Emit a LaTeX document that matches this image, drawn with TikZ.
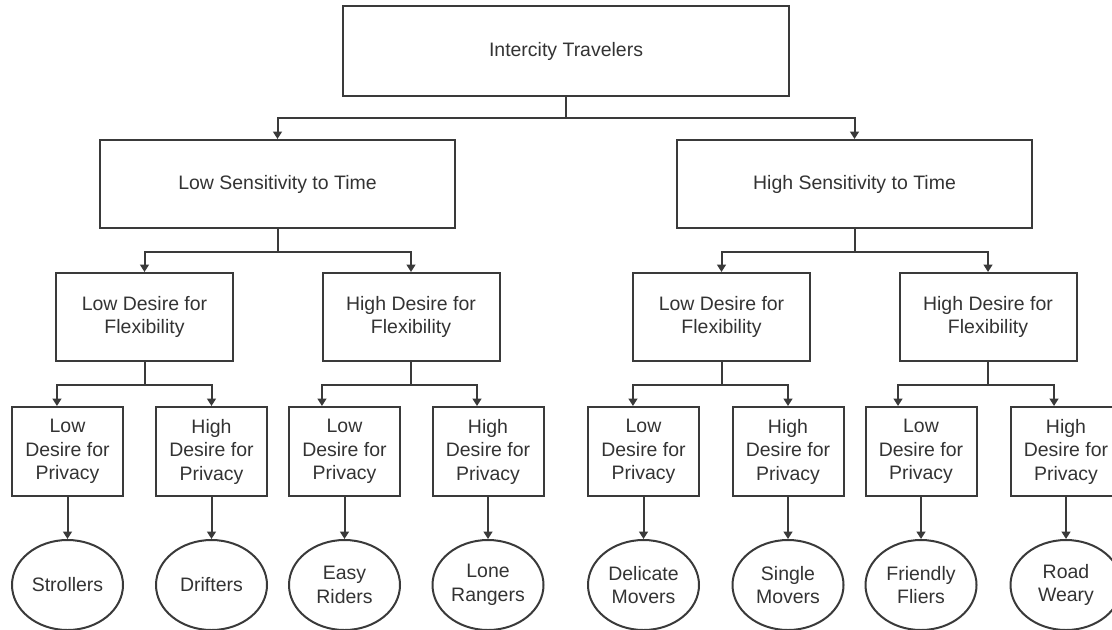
\documentclass[tikz,border=0pt]{standalone}
\usepackage{fontspec}
\setmainfont{Liberation Sans}
\usetikzlibrary{arrows.meta,shapes.geometric}
\definecolor{ln}{HTML}{3A3A3A}
\definecolor{tx}{HTML}{333333}
\begin{document}
\begin{tikzpicture}[x=0.75pt,y=-0.75pt,
  base/.style={draw=ln,line width=1.5pt,inner sep=0pt,align=center,text=tx,
    font=\fontsize{14.6}{17.6}\selectfont},
  topbox/.style={base,rectangle,minimum width=334.5pt,minimum height=67.5pt},
  lvtwo/.style={base,rectangle,minimum width=266.25pt,minimum height=66pt},
  lvthree/.style={base,rectangle,minimum width=132.75pt,minimum height=66pt},
  lvfour/.style={base,rectangle,minimum width=83.25pt,minimum height=66.75pt},
  leaf/.style={base,ellipse,minimum width=83.25pt,minimum height=67.5pt},
  arr/.style={draw=ln,line width=1.5pt,-{Triangle[width=6.5pt,length=5.5pt]}}
]
\useasboundingbox (0,0) rectangle (1112,629);
\clip (0,0) rectangle (1112,629);

% level 1
\node[topbox] (top) at (566,51) {Intercity Travelers};
% level 2
\node[lvtwo] (ls) at (277.5,184) {Low Sensitivity to Time};
\node[lvtwo] (hs) at (854.5,184) {High Sensitivity to Time};
% level 3
\node[lvthree] (lf1) at (144.5,317) {Low Desire for\\Flexibility};
\node[lvthree] (hf1) at (411,317) {High Desire for\\Flexibility};
\node[lvthree] (lf2) at (721.5,317) {Low Desire for\\Flexibility};
\node[lvthree] (hf2) at (988,317) {High Desire for\\Flexibility};
% level 4
\node[lvfour] (p1) at (67.5,451.5) {Low\\Desire for\\Privacy};
\node[lvfour] (p2) at (211.5,451.5) {High\\Desire for\\Privacy};
\node[lvfour] (p3) at (344.5,451.5) {Low\\Desire for\\Privacy};
\node[lvfour] (p4) at (488,451.5) {High\\Desire for\\Privacy};
\node[lvfour] (p5) at (643.5,451.5) {Low\\Desire for\\Privacy};
\node[lvfour] (p6) at (788,451.5) {High\\Desire for\\Privacy};
\node[lvfour] (p7) at (921,451.5) {Low\\Desire for\\Privacy};
\node[lvfour] (p8) at (1066,451.5) {High\\Desire for\\Privacy};
% leaves
\node[leaf] (e1) at (67.5,585) {Strollers};
\node[leaf] (e2) at (211.5,585) {Drifters};
\node[leaf] (e3) at (344.5,585) {Easy\\Riders};
\node[leaf] (e4) at (488,585) {Lone\\Rangers};
\node[leaf] (e5) at (643.5,585) {Delicate\\Movers};
\node[leaf] (e6) at (788,585) {Single\\Movers};
\node[leaf] (e7) at (921,585) {Friendly\\Fliers};
\node[leaf] (e8) at (1066,585) {Road\\Weary};

% connectors level 1 -> 2
\draw[arr] (top.south) -- ++(0,21) -| (ls.north);
\draw[arr] (top.south) -- ++(0,21) -| (hs.north);
% level 2 -> 3
\draw[arr] (ls.south) -- ++(0,23) -| (lf1.north);
\draw[arr] (ls.south) -- ++(0,23) -| (hf1.north);
\draw[arr] (hs.south) -- ++(0,23) -| (lf2.north);
\draw[arr] (hs.south) -- ++(0,23) -| (hf2.north);
% level 3 -> 4
\draw[arr] (lf1.south) -- ++(0,23) -| ([xshift=-7.9pt]p1.north);
\draw[arr] (lf1.south) -- ++(0,23) -| (p2.north);
\draw[arr] (hf1.south) -- ++(0,23) -| ([xshift=-16.9pt]p3.north);
\draw[arr] (hf1.south) -- ++(0,23) -| ([xshift=-8.25pt]p4.north);
\draw[arr] (lf2.south) -- ++(0,23) -| ([xshift=-7.9pt]p5.north);
\draw[arr] (lf2.south) -- ++(0,23) -| (p6.north);
\draw[arr] (hf2.south) -- ++(0,23) -| ([xshift=-17.25pt]p7.north);
\draw[arr] (hf2.south) -- ++(0,23) -| ([xshift=-9pt]p8.north);
% level 4 -> leaves
\foreach \i in {1,...,8}{
  \draw[arr] (p\i.south) -- (e\i.north);
}
\end{tikzpicture}
\end{document}
